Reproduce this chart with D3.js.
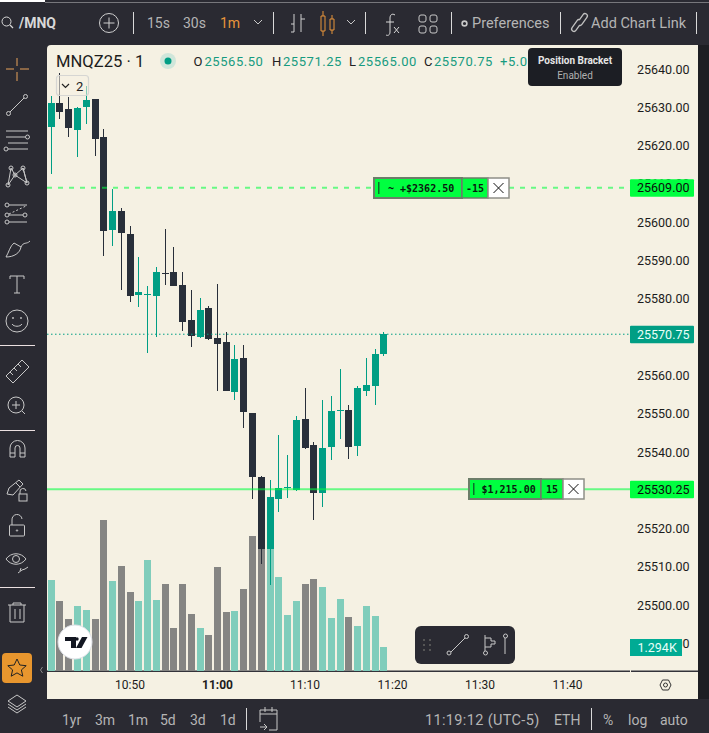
<!DOCTYPE html>
<html><head><meta charset="utf-8">
<script src="https://cdn.jsdelivr.net/npm/d3@7/dist/d3.min.js"></script>
<style>html,body{margin:0;padding:0;background:#2a2a32;overflow:hidden}svg{display:block}</style>
</head><body><svg id="c" width="709" height="733" font-family="Roboto"></svg>
<script>
const candleTimes=["10:41","10:42","10:43","10:44","10:45","10:46","10:47","10:48","10:49","10:50","10:51","10:52","10:53","10:54","10:55","10:56","10:57","10:58","10:59","11:00","11:01","11:02","11:03","11:04","11:05","11:06","11:07","11:08","11:09","11:10","11:11","11:12","11:13","11:14","11:15","11:16","11:17","11:18","11:19"];
const opens=[25624.75,25631.25,25629.5,25624,25630,25632.25,25622.25,25598,25603,25597,25581,25581,25580.75,25586.75,25587,25583.5,25574.5,25570,25577.5,25569.75,25568.75,25555.75,25564.5,25550.25,25533.5,25514.75,25527.75,25530.5,25530,25548.5,25541.75,25529.25,25541.25,25550.75,25551,25541.5,25556,25557.25,25565.5];
const highs=[25633,25639,25632.75,25630,25635.5,25632.25,25624.25,25608.75,25603.75,25599,25591,25583.25,25588.25,25598.25,25593.5,25587,25582.25,25580.25,25578,25583.75,25571.25,25568,25568,25550.25,25533.75,25532.75,25544.5,25539.25,25549.5,25556.75,25542.5,25553.5,25554.5,25561.75,25552.25,25557.25,25564.5,25567,25571.25];
const lows=[25612.5,25627,25622.25,25617,25625.75,25617.25,25591.25,25593.75,25582.25,25579.25,25577.75,25565.75,25570,25583.5,25583.25,25571.5,25567.5,25569.75,25569.25,25556,25556,25553.5,25546.25,25527.75,25510.75,25505.25,25524.25,25528,25529.75,25540.75,25522.25,25525.75,25538,25543.5,25538.25,25539,25554.5,25552.25,25565];
const closes=[25631.25,25628.75,25624.5,25629.75,25632,25621.75,25597.75,25603,25597.25,25580.75,25581.75,25581.25,25587,25586.5,25583.25,25574,25570.25,25577,25569.5,25568.25,25556,25564.25,25550.5,25533.5,25514.75,25528.25,25530.5,25530.75,25548.25,25541,25529.25,25541,25550.75,25551,25541.25,25556.75,25557.5,25565.5,25570.75];
const volumes=[4905,3773,2803,3504,3288,2803,8139,4851,5660,4258,3773,5983,3827,4689,2318,4689,3072,2318,1940,5606,3180,3234,4420,7277,8408,6791,5067,3018,3773,4689,4959,4528,2857,3881,2911,2426,3504,2965,1294];
const priceTicks=[25640,25630,25620,25610,25600,25590,25580,25560,25550,25540,25520,25510,25500,25490];
const timeTicks=["10:50","11:00","11:10","11:20","11:30","11:40"];
const legendValues=[["O","25565.50",193.5,204.5],["H","25571.25",272,283],["L","25565.00",349,358],["C","25570.75",424,434]];
const targetPrice=25609, stopPrice=25530.25, lastPrice=25570.75;

const svg=d3.select("#c");
const UP="#009e84",DN="#282f3a",BG="#f5f1e3",UI="#2a2a32",ICON="#c8c8c8";
const parse=d3.timeParse("%H:%M");
const x=d3.scaleTime().domain([parse("11:00"),parse("11:40")]).range([217,567]);
const y=d3.scaleLinear().domain([25640,25490]).range([69,643.5]);
const v=d3.scaleLinear().domain([0,1294]).range([671,647]);
const px=t=>Math.round(x(parse(t)))+0.5;
const rows=candleTimes.map((t,i)=>({t,o:opens[i],h:highs[i],l:lows[i],c:closes[i],vol:volumes[i],up:closes[i]>=opens[i]}));
function rect(g,a,b,w,h,f,extra={}){const r=g.append("rect").attr("x",a).attr("y",b).attr("width",w).attr("height",h).attr("fill",f);for(const k in extra)r.attr(k,extra[k]);return r}
function txt(g,s,a,b,size,f,extra={}){const r=g.append("text").text(s).attr("x",a).attr("y",b).attr("font-size",size).attr("fill",f);for(const k in extra)r.attr(k,extra[k]);return r}
function icon(d,col=ICON,w=1){return svg.append("path").attr("d",d).attr("fill","none").attr("stroke",col).attr("stroke-width",w)}
function circ(a,b,r,col=ICON,fill="none",w=1){return svg.append("circle").attr("cx",a).attr("cy",b).attr("r",r).attr("stroke",col).attr("fill",fill).attr("stroke-width",w)}

// frame
rect(svg,0,0,709,733,UI);
rect(svg,0,0,45,2,"#fff");
rect(svg,45,2,664,1,"#77777c");
rect(svg,698,45,11,654,"#1d1e23");
svg.append("path").attr("d","M47 49a4 4 0 0 1 4-4H698V699H47Z").attr("fill",BG);

// price axis (the 25610 and 25490 ticks are partly covered, as in the source)
const yAxis=svg.append("g").attr("transform","translate(633,0)").call(d3.axisRight(y).tickValues(priceTicks).tickSize(0).tickPadding(4).tickFormat(d3.format(".2f")));
yAxis.select(".domain").remove();
yAxis.selectAll("text").attr("font-size",12.5).attr("fill","#1c1c1c").attr("font-family","Roboto");

// time axis
const xAxis=svg.append("g").attr("transform","translate(0,671)").call(d3.axisBottom(x).tickValues(timeTicks.map(parse)).tickSize(0).tickPadding(9).tickFormat(d3.timeFormat("%H:%M")));
xAxis.select(".domain").remove();
xAxis.selectAll("text").attr("font-size",12).attr("fill","#1c1c1c").attr("font-family","Roboto").attr("font-weight",d=>d3.timeFormat("%H:%M")(d)==="11:00"?700:400);
rect(svg,47,670.5,583,1.5,"#33333a");
rect(svg,631,670.5,67,1.5,"#33333a");

// volume
svg.append("g").attr("shape-rendering","crispEdges").selectAll("rect").data(rows).join("rect")
 .attr("x",d=>px(d.t)-3.75).attr("width",7.5).attr("y",d=>v(d.vol)).attr("height",d=>671-v(d.vol)).attr("fill",d=>d.up?"#80cdbb":"#858583");

// candles
const cg=svg.append("g").attr("shape-rendering","crispEdges");
cg.selectAll("line").data(rows).join("line").attr("x1",d=>px(d.t)).attr("x2",d=>px(d.t)).attr("y1",d=>y(d.h)).attr("y2",d=>y(d.l)).attr("stroke",d=>d.up?UP:DN).attr("stroke-width",1);
cg.selectAll("rect").data(rows).join("rect").attr("x",d=>px(d.t)-3.5).attr("width",7).attr("y",d=>y(Math.max(d.o,d.c))).attr("height",d=>Math.max(1,y(Math.min(d.o,d.c))-y(Math.max(d.o,d.c)))).attr("fill",d=>d.up?UP:DN);

// price lines
svg.append("line").attr("x1",47).attr("x2",630).attr("y1",y(lastPrice)).attr("y2",y(lastPrice)).attr("stroke",UP).attr("stroke-dasharray","1.5 2.5").attr("stroke-width",1);
svg.append("line").attr("x1",47).attr("x2",630).attr("y1",y(targetPrice)).attr("y2",y(targetPrice)).attr("stroke","#00ff40").attr("stroke-opacity",.58).attr("stroke-dasharray","5 6").attr("stroke-width",2);
svg.append("line").attr("x1",47).attr("x2",630).attr("y1",y(stopPrice)).attr("y2",y(stopPrice)).attr("stroke","#00ff40").attr("stroke-opacity",.58).attr("stroke-width",2);

// price labels
function priceLabel(p,col,tc){const c=y(p);rect(svg,630,c-8.5,64,17.5,col,{rx:1});txt(svg,p.toFixed(2),637,c+4.5,12.5,tc)}
priceLabel(targetPrice,"#00ff40","#0c0c0c");
priceLabel(stopPrice,"#00ff40","#0c0c0c");
priceLabel(lastPrice,"#009e84","#eafff8");
rect(svg,630,639,52,17,"#00ab94");
txt(svg,"1.294K",637.5,652,12.5,"#e8fff8");

// order widgets
const MONO={"font-family":"DejaVu Sans Mono","font-weight":700};
function widget(p,a,w1,w2,w3,label,lx,q){const c=Math.round(y(p));const t=c-11,H=21;
 rect(svg,a+1,t+1,w1-1,H-1,"#00ff40",{stroke:"#6c7d69","stroke-width":2});
 rect(svg,a+w1,t+1,w2,H-1,"#00ff40",{stroke:"#6c7d69","stroke-width":1.5});
 rect(svg,a+w1+w2,t+1,w3,H-1,"#fff",{stroke:"#8f8f88","stroke-width":1.5});
 rect(svg,a+5,t+5,1.5,12,"#0a6e2a");
 txt(svg,label,lx,c+3.5,10,"#0a1a0f",MONO);
 txt(svg,q,a+w1+w2/2,c+3.5,10,"#0a1a0f",{...MONO,"text-anchor":"middle"});
 const m=a+w1+w2+w3/2;icon(`M${m-5} ${c-5}L${m+5} ${c+5}M${m+5} ${c-5}L${m-5} ${c+5}`,"#111",1);}
widget(targetPrice,373,89,26,21,"~ +$2362.50",388,"-15");
widget(stopPrice,468,73,22,21,"$1,215.00",481.5,"15");

// top toolbar
circ(6.5,21.5,4.5,"#d8d8d8");icon("M10 25l3 3","#d8d8d8",1.2);
txt(svg,"/MNQ",19,28,14,"#d8d8d8",{"font-weight":700});
circ(109,23,9.5,"#cfcfcf");icon("M109 17.5v11M103.5 23h11","#cfcfcf");
[133,273,365,451,560,696].forEach(s=>rect(svg,s,12,1,22,"#d9d9d9"));
txt(svg,"15s",147,28,14,"#b5b5b5");txt(svg,"30s",183,28,14,"#b5b5b5");txt(svg,"1m",220,28,14,"#e8953a");
icon("M254 20l4 4 4-4");icon("M347 20l4 4 4-4");
icon("M291 32h3V14M294 24h-3M301 14v18M301 19h4","#d0d0d0");
icon("M321 16h4v15h-4ZM323 11v5M323 31v5M330 19h4v11h-4ZM332 15v4M332 30v4","#e8953a");
icon("M395 15c-3-2-5 0-5 3v14c0 3-2 4-4 3M386 22h8","#d8d8d8");icon("M394 27l5 6M399 27l-5 6","#d8d8d8");
[[419,15],[430,15],[419,26],[430,26]].forEach(b=>rect(svg,b[0],b[1],7,7,"none",{stroke:"#c8c8c8",rx:2}));
circ(464.5,23.5,2.4,"#c8c8c8","none",1.6);
txt(svg,"Preferences",472,28,14.5,"#b5b5b5");
[["#c0c0c0",6],[UI,3.4]].forEach(s=>{icon("M574 29L579 22",s[0],s[1]).attr("stroke-linecap","round");icon("M580 23L585 16",s[0],s[1]).attr("stroke-linecap","round")});
txt(svg,"Add Chart Link",591,28,14.5,"#b5b5b5");

// legend
txt(svg,"MNQZ25 · 1",56,67,16.6,"#1c1c1c");
circ(168,61,8,"none","#cfe6da");circ(168,61,3.5,"none","#009e84");
legendValues.forEach(r=>{txt(svg,r[0],r[2],66,13,"#222");txt(svg,r[1],r[3],66,13,"#169b80",{"letter-spacing":.55})});
txt(svg,"+5.0",500,66,13,"#169b80",{"letter-spacing":.55});
rect(svg,528,48,94,38,"#1c1e24",{rx:4});
txt(svg,"Position Bracket",575,64,10,"#e6e6e6",{"text-anchor":"middle","font-weight":700});
txt(svg,"Enabled",575,79,10,"#b0b0b0",{"text-anchor":"middle"});
rect(svg,56.5,75.5,32,20,"#f5f1e3",{"fill-opacity":.55,stroke:"#d6d6d3","stroke-width":1.2,rx:3});
icon("M62 84l3.5 3.5 3.5-3.5","#222",1.2);txt(svg,"2",76,91,13,"#222");

// left toolbar
const O="#e8a25a";
icon("M6 69h8M20 69h9M17 58v8M17 72v9",O);
icon("M10 112L24 98");circ(8.5,113.5,2);circ(25.5,96.5,2);
icon("M6 131h22M6 137h19M8 143h20M8 149h20");circ(27.5,137,2);circ(6,149,2);
icon("M11 168L15 175L23 168L27 183L15 175L8 185M11 168L8 185M23 168L27 183");[[11,168],[23,168],[15,175],[8,185],[27,183]].forEach(p=>circ(p[0],p[1],2));
icon("M9 205h18M9 222h18");icon("M9 214L26 206","#c8c8c8").attr("stroke-dasharray","2 2");icon("M9 215h14");[[7,205],[7,215],[7,222],[25,215]].forEach(p=>circ(p[0],p[1],2));
icon("M6 257C9 252 10 246 14 243L21 247C20 253 14 257 6 257ZM21 247C24 241 26 245 30 241");
icon("M10 279v-3h14v3M17 276v17M14 293h6");
circ(17,321,11);icon("M12 324c2 3 8 3 10 0");circ(13,318,.6);circ(21,318,.6);
icon("M6 376L22 360L29 367L13 383ZM10 372l3 3M14 368l3 3M18 364l3 3");
circ(16,405,8);icon("M16 401v8M12 405h8M22 411l3 3");
icon("M10 457v-9a7.5 7.5 0 0 1 15 0v9h-5v-9a2.5 2.5 0 0 0-5 0v9ZM10 453h5M20 453h5");
icon("M7 494l2-6L19 480l4 4L13 495ZM16 483l4 4");rect(svg,19,494,8,7,"none",{stroke:ICON});icon("M20 494v-2a3 3 0 0 1 6-1");
rect(svg,9.5,525,15,11,"none",{stroke:ICON,rx:1});icon("M12 525v-5a5 5 0 0 1 10-1");circ(17,530.5,.7);
icon("M6 559c5-7 15-7 20 0c-5 7-15 7-20 0Z");circ(16,559,3.5);icon("M18 573l4-3 3-1 3-2M21 568l-1 3");
icon("M8 605h18M13 605v-2h8v2M10 605v17h14v-17M15 609v10M20 609v10");
rect(svg,2,653,30,30,"#e8962e",{rx:4});
icon("M17 659l2.8 6 6.4.7-4.8 4.2 1.4 6.3-5.8-3.3-5.8 3.3 1.4-6.3-4.8-4.2 6.4-.7Z","#222");
icon("M42.5 667l-2 3 2 3","#8a8a8a");
icon("M17 695l9 6-9 6-9-6ZM8 704l9 6 9-6M8 707l9 6 9-6");
[345,430,587].forEach(s=>rect(svg,0,s,35,1,"#eadfe0"));

// TradingView badge
circ(75,642,17,"#dde0e6","#fff",1);
svg.append("path").attr("d","M65 637h11v11h-5v-7h-6ZM82 637h5.5l-6 11h-5.5Z").attr("fill","#131722");circ(77,639,1.7,"none","#131722");

// drawing toolbar
rect(svg,415,626,100,38,UI,{rx:6});
[[424,640],[430,640],[424,645],[430,645],[424,650],[430,650]].forEach(p=>rect(svg,p[0]-1,p[1]-1,2,2,"#555"));
icon("M451 652L465 638");circ(449,653,2);circ(466.5,636.5,2);
icon("M485 635v16M485 638h6v3h4v3h-4v3h-6");circ(485.5,653,2);
icon("M505 638v16");circ(505.5,636,2);

// axis settings
icon("M660 685l2.5-5h6l2.5 5-2.5 5h-6Z","#333");circ(665.5,685,2,"#333");

// bottom bar
const BOT="#b5b5b5";
[["1yr",62],["3m",95],["1m",128],["5d",160],["3d",190],["1d",220]].forEach(r=>txt(svg,r[0],r[1],725,14,BOT));
rect(svg,246,708,1,22,"#d9d9d9");
icon("M260 722v-12h17v20h-8M260 714h17M265 707v5M272 707v5M260 727h7M264 724l3 3-3 3");
txt(svg,"11:19:12 (UTC-5)",425,725,14.5,BOT,{"letter-spacing":.35});txt(svg,"ETH",554,725,14,BOT);
rect(svg,591,708,1,22,"#d9d9d9");
txt(svg,"%",603,725,14,BOT);txt(svg,"log",628,725,14,BOT);txt(svg,"auto",660,725,14,BOT);
</script></body></html>
